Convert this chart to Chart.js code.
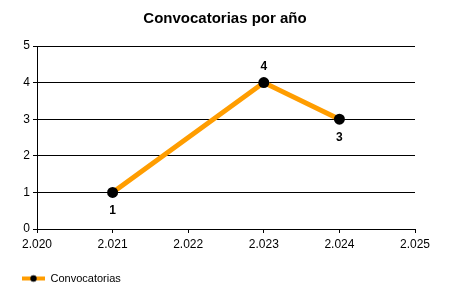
<!DOCTYPE html>
<html>
<head>
<meta charset="utf-8">
<script src="https://cdn.jsdelivr.net/npm/chart.js@4"></script>
<style>
  html, body { margin: 0; padding: 0; background: #fff; }
  #wrap { width: 450px; height: 300px; }
</style>
</head>
<body>
<div id="wrap"><canvas id="myChart" width="450" height="300"></canvas></div>
<script>
const years = [2021, 2023, 2024]
const counts = [1, 4, 3]
const labelPos = ['below', 'above', 'below']
const seriesName = 'Convocatorias'
const titleText = 'Convocatorias por año'

// little legend marker: orange line with a black dot
const marker = document.createElement('canvas')
marker.width = 23
marker.height = 10
const mctx = marker.getContext('2d')
mctx.strokeStyle = '#FF9D00'
mctx.lineWidth = 4
mctx.beginPath()
mctx.moveTo(0, 5)
mctx.lineTo(23, 5)
mctx.stroke()
mctx.fillStyle = '#000'
mctx.beginPath()
mctx.arc(11.5, 5, 3.2, 0, Math.PI * 2)
mctx.fill()

const fmtThousands = v => {
  const s = String(Math.round(v))
  return s.replace(/\B(?=(\d{3})+(?!\d))/g, '.')
}

// value labels next to each point
const valueLabels = {
  id: 'valueLabels',
  afterDatasetsDraw(chart) {
    const ctx = chart.ctx
    const meta = chart.getDatasetMeta(0)
    ctx.save()
    ctx.font = 'bold 12px "Liberation Sans", Arial, sans-serif'
    ctx.fillStyle = '#000'
    ctx.textAlign = 'center'
    ctx.textBaseline = 'middle'
    meta.data.forEach((pt, i) => {
      const dy = labelPos[i] === 'above' ? -16 : 18
      ctx.fillText(String(counts[i]), pt.x, pt.y + dy)
    })
    ctx.restore()
  }
}

const ctx = document.getElementById('myChart')
const myChart = new Chart(ctx, {
  type: 'line',
  data: {
    datasets: [{
      label: seriesName,
      data: years.map((y, i) => ({ x: y, y: counts[i] })),
      borderColor: '#FF9D00',
      backgroundColor: '#000',
      borderWidth: 5,
      pointRadius: 5.5,
      pointHoverRadius: 5.5,
      pointBackgroundColor: '#000',
      pointBorderWidth: 0,
      tension: 0,
      pointStyle: 'circle'
    }]
  },
  options: {
    responsive: false,
    animation: false,
    devicePixelRatio: 1,
    layout: { padding: { left: 12, right: 12, top: 0, bottom: 6 } },
    plugins: {
      title: {
        display: true,
        text: titleText,
        color: '#000',
        font: { family: '"Liberation Sans", Arial, sans-serif', size: 15, weight: 'bold', lineHeight: 1.2 },
        padding: { top: 10, bottom: 18 }
      },
      legend: {
        display: true,
        position: 'bottom',
        align: 'start',
        labels: {
          color: '#000',
          font: { family: '"Liberation Sans", Arial, sans-serif', size: 11 },
          usePointStyle: true,
          pointStyle: marker,
          pointStyleWidth: 23,
          padding: 10,
          generateLabels: chart => [{
            text: seriesName,
            pointStyle: marker,
            fillStyle: '#000',
            strokeStyle: '#FF9D00',
            lineWidth: 0,
            datasetIndex: 0
          }]
        }
      },
      tooltip: { enabled: false }
    },
    scales: {
      x: {
        type: 'linear',
        min: 2020,
        max: 2025,
        ticks: {
          stepSize: 1,
          color: '#000',
          font: { family: '"Liberation Sans", Arial, sans-serif', size: 12 },
          padding: 4,
          maxRotation: 0,
          callback: v => fmtThousands(v)
        },
        grid: {
          display: true,
          drawOnChartArea: false,
          drawTicks: true,
          tickLength: 4,
          color: '#000'
        },
        border: { display: true, color: '#000', width: 1 },
        afterFit: scale => { scale.height = 34 }
      },
      y: {
        min: 0,
        max: 5,
        ticks: {
          stepSize: 1,
          color: '#000',
          font: { family: '"Liberation Sans", Arial, sans-serif', size: 12 },
          padding: 3
        },
        grid: {
          color: '#000',
          drawTicks: true,
          tickLength: 4
        },
        border: { display: true, color: '#000', width: 1 },
        afterFit: scale => { scale.width = 25 }
      },
      // empty right-hand space so the title stays centred on the canvas
      yRight: {
        position: 'right',
        display: true,
        min: 0,
        max: 5,
        ticks: { display: false },
        grid: { display: false, drawOnChartArea: false },
        border: { display: false },
        afterFit: scale => { scale.width = 23 }
      }
    }
  },
  plugins: [valueLabels]
})
</script>
</body>
</html>
